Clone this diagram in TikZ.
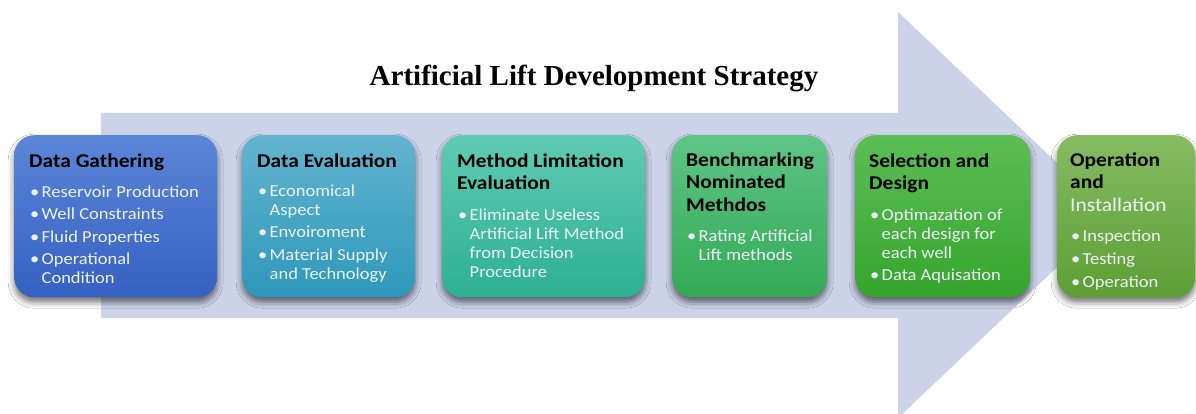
\documentclass[tikz,border=0pt]{standalone}
\usepackage{fontspec}
\setmainfont{Carlito}[FakeStretch=1.1]
\newfontfamily\titlefont{Liberation Serif}
\usetikzlibrary{shadows.blur}

\definecolor{arrowfill}{HTML}{CCD3E9}
\definecolor{itemtext}{HTML}{EEF2FA}
\definecolor{aTop}{HTML}{5B86D7}\definecolor{aBot}{HTML}{3660C2}
\definecolor{bTop}{HTML}{63B4D0}\definecolor{bBot}{HTML}{2E98BA}
\definecolor{cTop}{HTML}{5FCBB3}\definecolor{cBot}{HTML}{2DB092}
\definecolor{dTop}{HTML}{5EC587}\definecolor{dBot}{HTML}{33AA55}
\definecolor{eTop}{HTML}{5CBE55}\definecolor{eBot}{HTML}{35A52C}
\definecolor{fTop}{HTML}{86BB62}\definecolor{fBot}{HTML}{5D9F34}

% bullet and continuation indent for the item lists
\newcommand{\bl}{\makebox[12.5pt][l]{\hspace{1pt}\textbullet}}
\newcommand{\cl}{\hspace*{12.5pt}}
\newcommand{\hs}{\rule{0pt}{15pt}}
\newcommand{\ls}{\rule{0pt}{13pt}}

\tikzset{
  stage/.style={draw=none, rounded corners=20pt, anchor=north west, inner sep=0pt,
    blur shadow={shadow xshift=0pt, shadow yshift=-5pt, shadow blur radius=6pt, shadow opacity=55}},
  head/.style={anchor=north west, inner sep=0pt, align=left, text=black,
    font=\fontsize{19.5}{22.7}\selectfont\bfseries},
  items/.style={anchor=north west, inner sep=0pt, align=left, text=itemtext,
    font=\fontsize{16.8}{19}\selectfont},
}

\begin{document}
\begin{tikzpicture}[x=1pt, y=-1pt]
\useasboundingbox (0,0) rectangle (1196,414);
\fill[white] (0,0) rectangle (1196,414);

% large background arrow
\fill[arrowfill] (101,113) -- (898,113) -- (898,12) -- (1112,215)
  -- (898,418) -- (898,318) -- (101,318) -- cycle;

\node[font=\titlefont\bfseries\fontsize{29}{34}\selectfont, anchor=base] (title)
  at (594,86) {Artificial Lift Development Strategy};

% stage boxes
\node[stage, top color=aTop, bottom color=aBot, minimum width=203pt, minimum height=162pt] (s1) at (14,135) {};
\node[stage, top color=bTop, bottom color=bBot, minimum width=173pt, minimum height=162pt] (s2) at (242,135) {};
\node[stage, top color=cTop, bottom color=cBot, minimum width=203pt, minimum height=162pt] (s3) at (442,135) {};
\node[stage, top color=dTop, bottom color=dBot, minimum width=155pt, minimum height=162pt] (s4) at (672,135) {};
\node[stage, top color=eTop, bottom color=eBot, minimum width=175pt, minimum height=162pt] (s5) at (855,135) {};
\node[stage, top color=fTop, bottom color=fBot, minimum width=138pt, minimum height=162pt] (s6) at (1057,135) {};

% stage texts
\node[head] (h1) at (29,152) {\hs Data Gathering};
\node[items] (l1) at (29,184) {\ls\bl Reservoir Production\\[3.5pt]
  \bl Well Constraints\\[3.5pt]
  \bl Fluid Properties\\[3.5pt]
  \bl Operational\\
  \cl Condition};

\node[head] (h2) at (257,152) {\hs Data Evaluation};
\node[items] (l2) at (257,183) {\ls\bl Economical\\
  \cl Aspect\\[3.5pt]
  \bl Envoiroment\\[3.5pt]
  \bl Material Supply\\
  \cl and Technology};

\node[head] (h3) at (457,152) {\hs Method Limitation\\ Evaluation};
\node[items] (l3) at (457,207) {\ls\bl Eliminate Useless\\
  \cl Artificial Lift Method\\
  \cl from Decision\\
  \cl Procedure};

\node[head] (h4) at (686,151) {\hs Benchmarking\\ Nominated\\ Methdos};
\node[items] (l4) at (686,228) {\ls\bl Rating Artificial\\
  \cl Lift methods};

\node[head] (h5) at (869,152) {\hs Selection and\\ Design};
\node[items] (l5) at (869,207) {\ls\bl Optimazation of\\
  \cl each design for\\
  \cl each well\\[3.5pt]
  \bl Data Aquisation};

\node[head] (h6) at (1070,151) {\hs Operation\\ and\\ {\mdseries\color{itemtext}Installation}};
\node[items] (l6) at (1070,228) {\ls\bl Inspection\\[4.3pt]
  \bl Testing\\[4.3pt]
  \bl Operation};
\end{tikzpicture}
\end{document}
